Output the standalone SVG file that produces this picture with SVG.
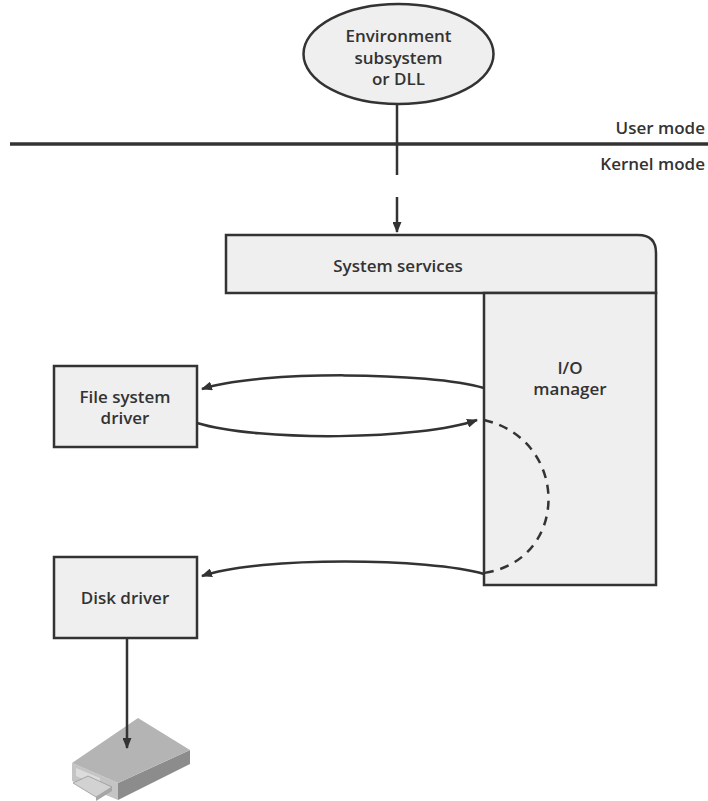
<svg xmlns="http://www.w3.org/2000/svg" width="708" height="801" viewBox="0 0 708 801">
<defs>
<style>
.box{fill:#efefef;stroke:#333;stroke-width:2.5}
.lbl{font-family:"Open Sans","Liberation Sans",sans-serif;font-weight:600;font-size:17px;fill:#333;text-anchor:middle}
.mode{font-family:"Open Sans","Liberation Sans",sans-serif;font-weight:600;font-size:17px;fill:#333;text-anchor:end}
.conn{fill:none;stroke:#333;stroke-width:2.5}
.dash{fill:none;stroke:#333;stroke-width:2.5;stroke-dasharray:9 7}
</style>
<marker id="ah" markerUnits="userSpaceOnUse" markerWidth="11" markerHeight="9" refX="10" refY="4.5" orient="auto">
<path d="M0,0 L11,4.5 L0,9 Z" fill="#333"/>
</marker>
</defs>
<rect width="708" height="801" fill="#fff"/>

<g id="boundary">
<line x1="10" y1="144" x2="708" y2="144" stroke="#333" stroke-width="3.5"/>
<text class="mode" x="705" y="134">User mode</text>
<text class="mode" x="705" y="170">Kernel mode</text>
</g>

<g id="env">
<ellipse class="box" cx="398.5" cy="54" rx="95" ry="50"/>
<text class="lbl" x="398.5" y="42">Environment</text>
<text class="lbl" x="398.5" y="64">subsystem</text>
<text class="lbl" x="398.5" y="85">or DLL</text>
</g>

<g id="sysservices">
<path class="box" d="M226,235 H638 Q656,235 656,253 V293 H226 Z"/>
<text class="lbl" x="398" y="272">System services</text>
</g>

<g id="iomanager">
<rect class="box" x="484" y="293" width="172" height="292"/>
<text class="lbl" x="570" y="374">I/O</text>
<text class="lbl" x="570" y="395">manager</text>
</g>

<g id="fsd">
<rect class="box" x="54" y="366" width="143" height="81"/>
<text class="lbl" x="125" y="403">File system</text>
<text class="lbl" x="125" y="424">driver</text>
</g>

<g id="diskdriver">
<rect class="box" x="54" y="557" width="143" height="81"/>
<text class="lbl" x="125" y="604">Disk driver</text>
</g>

<g id="disk">
<polygon points="72,763 118,783 118,800 72,781" fill="#c4c4c4"/>
<polygon points="118,783 190,750 190,764 118,800" fill="#8c8c8c"/>
<polygon points="72,763 138,718 190,750 118,783" fill="#b4b4b4"/>
<polygon points="76,768 100,778 100,786 76,776" fill="#dcdcdc"/>
<polygon points="73,783 88,776 112,787 96,797" fill="#d2d2d2" stroke="#999" stroke-width="0.8"/>
<polygon points="96,797 112,787 112,791 96,801" fill="#a6a6a6"/>
</g>

<g id="connectors">
<line class="conn" x1="397" y1="104" x2="397" y2="175"/>
<line class="conn" x1="397" y1="197" x2="397" y2="232" marker-end="url(#ah)"/>
<path class="conn" d="M484,388 C430,372 260,370 202,389" marker-end="url(#ah)"/>
<path class="conn" d="M197,423 C260,442 420,440 477,420" marker-end="url(#ah)"/>
<path class="dash" d="M484,420 C570,440 570,560 484,573"/>
<path class="conn" d="M484,574 C430,558 260,556 202,576" marker-end="url(#ah)"/>
<line class="conn" x1="127" y1="638" x2="127" y2="748" marker-end="url(#ah)"/>
</g>
</svg>
